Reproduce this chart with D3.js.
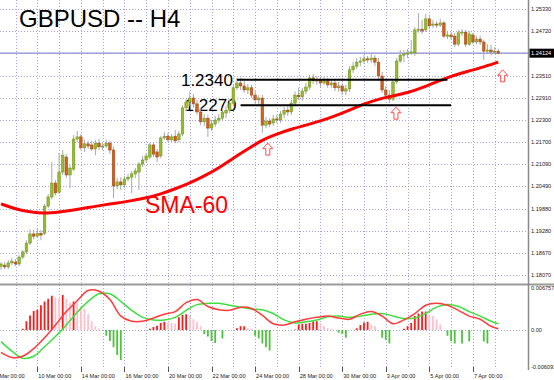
<!DOCTYPE html>
<html><head><meta charset="utf-8">
<script src="https://cdn.jsdelivr.net/npm/d3@7/dist/d3.min.js"></script>
<style>html,body{margin:0;padding:0;background:#fff;overflow:hidden}svg{display:block}</style>
</head><body><svg id="c" width="554" height="380"></svg>
<script>
// ---------- DATA ----------
const opens=[
1.1831,1.1834,1.1829,1.1840,1.1842,1.1837,1.1856,1.1870,1.1894,1.1919,
1.1913,1.1921,1.1921,1.1995,1.2020,1.2058,1.2033,1.2088,1.2129,1.2080,
1.2096,1.2178,1.2184,1.2154,1.2165,1.2162,1.2151,1.2167,1.2157,1.2159,
1.2167,1.2148,1.2050,1.2061,1.2053,1.2069,1.2074,1.2083,1.2088,1.2110,
1.2121,1.2129,1.2162,1.2143,1.2132,1.2181,1.2186,1.2176,1.2186,1.2176,
1.2192,1.2263,1.2279,1.2290,1.2274,1.2252,1.2225,1.2235,1.2208,1.2219,
1.2230,1.2235,1.2249,1.2257,1.2276,1.2318,1.2331,1.2323,1.2312,1.2318,
1.2298,1.2285,1.2290,1.2216,1.2227,1.2222,1.2233,1.2230,1.2246,1.2257,
1.2252,1.2276,1.2298,1.2293,1.2309,1.2320,1.2345,1.2337,1.2339,1.2331,
1.2337,1.2326,1.2331,1.2318,1.2323,1.2309,1.2315,1.2367,1.2377,1.2388,
1.2391,1.2397,1.2394,1.2399,1.2388,1.2350,1.2312,1.2298,1.2287,1.2334,
1.2391,1.2407,1.2410,1.2413,1.2413,1.2476,1.2478,1.2476,1.2506,1.2489,
1.2492,1.2489,1.2495,1.2459,1.2462,1.2459,1.2437,1.2468,1.2470,1.2437,
1.2462,1.2443,1.2451,1.2443,1.2418,1.2421,1.2416,1.2418];
const highs=[
1.1842,1.1842,1.1848,1.1853,1.1850,1.1861,1.1875,1.1902,1.1932,1.1930,
1.1935,1.1930,1.2001,1.2028,1.2115,1.2066,1.2140,1.2148,1.2137,1.2107,
1.2189,1.2200,1.2192,1.2176,1.2173,1.2173,1.2176,1.2178,1.2167,1.2176,
1.2173,1.2157,1.2072,1.2074,1.2077,1.2083,1.2091,1.2099,1.2115,1.2132,
1.2140,1.2167,1.2167,1.2151,1.2186,1.2197,1.2195,1.2192,1.2203,1.2200,
1.2271,1.2287,1.2307,1.2301,1.2285,1.2263,1.2246,1.2244,1.2230,1.2241,
1.2246,1.2263,1.2268,1.2285,1.2328,1.2345,1.2345,1.2337,1.2328,1.2326,
1.2309,1.2298,1.2298,1.2238,1.2235,1.2244,1.2244,1.2255,1.2265,1.2268,
1.2285,1.2307,1.2318,1.2318,1.2331,1.2353,1.2356,1.2350,1.2348,1.2348,
1.2345,1.2342,1.2339,1.2334,1.2331,1.2326,1.2377,1.2388,1.2399,1.2402,
1.2407,1.2405,1.2410,1.2407,1.2399,1.2361,1.2323,1.2312,1.2342,1.2399,
1.2421,1.2421,1.2424,1.2448,1.2484,1.2522,1.2503,1.2519,1.2517,1.2503,
1.2500,1.2506,1.2500,1.2473,1.2470,1.2468,1.2476,1.2478,1.2476,1.2473,
1.2468,1.2459,1.2459,1.2448,1.2437,1.2435,1.2429,1.2424];
const lows=[
1.1821,1.1823,1.1823,1.1834,1.1831,1.1831,1.1850,1.1864,1.1889,1.1905,
1.1908,1.1902,1.1916,1.1990,1.2014,1.2025,1.2028,1.2080,1.2072,1.2044,
1.2091,1.2170,1.2148,1.2143,1.2151,1.2145,1.2134,1.2148,1.2148,1.2154,
1.2137,1.2017,1.2042,1.2039,1.2044,1.2063,1.2031,1.2072,1.2039,1.2102,
1.2115,1.2123,1.2129,1.2115,1.2126,1.2176,1.2170,1.2170,1.2167,1.2170,
1.2186,1.2255,1.2268,1.2263,1.2244,1.2216,1.2214,1.2184,1.2200,1.2211,
1.2222,1.2227,1.2235,1.2249,1.2268,1.2312,1.2312,1.2304,1.2301,1.2290,
1.2274,1.2274,1.2195,1.2208,1.2211,1.2214,1.2222,1.2222,1.2235,1.2241,
1.2244,1.2271,1.2285,1.2282,1.2301,1.2312,1.2328,1.2326,1.2320,1.2326,
1.2318,1.2318,1.2309,1.2307,1.2298,1.2298,1.2307,1.2358,1.2369,1.2377,
1.2383,1.2386,1.2386,1.2377,1.2342,1.2304,1.2287,1.2276,1.2282,1.2328,
1.2386,1.2388,1.2399,1.2407,1.2405,1.2468,1.2465,1.2470,1.2478,1.2481,
1.2481,1.2484,1.2454,1.2451,1.2448,1.2429,1.2432,1.2459,1.2429,1.2432,
1.2437,1.2437,1.2435,1.2394,1.2410,1.2407,1.2410,1.2410];
const closes=[
1.1837,1.1829,1.1840,1.1845,1.1837,1.1856,1.1870,1.1894,1.1919,1.1913,
1.1921,1.1916,1.1995,1.2020,1.2058,1.2031,1.2088,1.2134,1.2080,1.2099,
1.2178,1.2184,1.2154,1.2165,1.2159,1.2151,1.2167,1.2157,1.2159,1.2167,
1.2148,1.2050,1.2061,1.2053,1.2069,1.2074,1.2083,1.2091,1.2110,1.2121,
1.2132,1.2162,1.2137,1.2129,1.2181,1.2186,1.2176,1.2184,1.2173,1.2192,
1.2263,1.2279,1.2290,1.2274,1.2252,1.2225,1.2235,1.2208,1.2219,1.2230,
1.2235,1.2252,1.2257,1.2276,1.2318,1.2331,1.2323,1.2312,1.2318,1.2298,
1.2285,1.2290,1.2216,1.2227,1.2219,1.2233,1.2230,1.2246,1.2257,1.2252,
1.2276,1.2298,1.2293,1.2309,1.2320,1.2345,1.2337,1.2339,1.2331,1.2337,
1.2326,1.2331,1.2318,1.2323,1.2309,1.2315,1.2367,1.2377,1.2388,1.2391,
1.2397,1.2394,1.2399,1.2388,1.2350,1.2312,1.2298,1.2287,1.2334,1.2391,
1.2407,1.2410,1.2413,1.2416,1.2476,1.2478,1.2473,1.2506,1.2487,1.2492,
1.2489,1.2495,1.2459,1.2462,1.2457,1.2437,1.2468,1.2470,1.2437,1.2465,
1.2443,1.2451,1.2443,1.2418,1.2421,1.2416,1.2418,1.2412];

// SMA-60 read at sample bars
const smaIdx=[0,4,8,12,16,20,24,28,32,36,40,44,48,52,56,60,64,68,72,76,80,84,88,92,96,100,104,108,112,116,120,124,128,132,137];
const smaVal=[1.2001,1.1987,1.1979,1.1975,1.1979,1.1984,1.1991,1.1998,1.2003,1.2010,1.2017,1.2028,1.2042,1.2058,1.2077,1.2099,1.2126,1.2151,1.2176,1.2192,1.2205,1.2216,1.2227,1.2241,1.2257,1.2274,1.2287,1.2296,1.2304,1.2318,1.2334,1.2350,1.2361,1.2372,1.2388];

// MACD panel
const macdIdx=[0,3,6,9,12,15,18,21,24,27,30,33,36,39,42,45,48,51,54,57,60,63,66,69,72,75,78,81,84,87,90,93,96,99,102,105,108,111,114,117,120,123,126,129,132,135,137];
const macdMain=[-0.0035,-0.0043,-0.0041,-0.0029,-0.0012,0.0008,0.0029,0.0046,0.0062,0.0061,0.0048,0.0022,0.0014,0.0014,0.0019,0.0025,0.0029,0.0043,0.0048,0.0037,0.0032,0.0031,0.0036,0.0034,0.0023,0.0010,0.0008,0.0013,0.0017,0.0020,0.0022,0.0019,0.0017,0.0025,0.0029,0.0022,0.0010,0.0016,0.0026,0.0039,0.0042,0.0039,0.0031,0.0022,0.0017,0.0006,0.0002];
const macdSignal=[-0.0018,-0.0033,-0.0044,-0.0041,-0.0026,-0.0010,0.0008,0.0028,0.0045,0.0057,0.0057,0.0045,0.0031,0.0020,0.0016,0.0016,0.0020,0.0031,0.0040,0.0042,0.0042,0.0039,0.0036,0.0033,0.0032,0.0026,0.0016,0.0011,0.0013,0.0016,0.0021,0.0022,0.0020,0.0022,0.0025,0.0026,0.0022,0.0018,0.0019,0.0026,0.0036,0.0040,0.0037,0.0029,0.0022,0.0014,0.0010];
const histogram=[
0,0,0,0,0,0,0.0002,0.0014,0.0023,0.0030,
0.0032,0.0039,0.0045,0.0049,0.0054,0.0051,0.0050,0.0055,0.0049,0.0043,
0.0045,0.0042,0.0037,0.0034,0.0025,0.0014,0.0006,0.0002,0,-0.0009,
-0.0017,-0.0027,-0.0039,-0.0047,0,0,0,0,0,0,
0,0.0002,0.0005,0.0007,0.0011,0.0013,0.0012,0.0011,0.0010,0.0020,
0.0024,0.0025,0.0022,0.0017,0.0013,0.0006,-0.0006,-0.0010,-0.0017,-0.0020,
0,-0.0013,0,0,0,0.0003,0.0006,0.0006,0.0003,0.0002,
-0.0009,-0.0013,-0.0021,-0.0027,-0.0032,0,0,0,0,0,
0,0.0001,0.0009,0.0010,0.0010,0.0011,0.0014,0.0014,0.0011,0.0006,
0.0003,0.0002,0,-0.0004,-0.0006,-0.0012,0,0,0.0003,0.0008,
0.0012,0.0013,0.0008,0.0006,0,-0.0012,-0.0015,-0.0021,0,0,
0,0.0002,0.0006,0.0011,0.0022,0.0026,0.0029,0.0029,0.0025,0.0022,
0.0017,0.0009,0,-0.0009,-0.0017,-0.0021,0,-0.0021,0,-0.0018,
0,0,0,-0.0018,-0.0021,0,0,0];

// axes / annotations
const priceTicks=[1.25330,1.24720,1.24120,1.23510,1.22910,1.22300,1.21700,1.21090,1.20490,1.19880,1.19280,1.18670,1.18070];
const priceTickLabels=["1.25330","1.24720","1.24120","1.23510","1.22910","1.22300","1.21700","1.21090","1.20490","1.19880","1.19280","1.18670","1.18070"];
const bidPrice=1.24124;
const macdTicks=[0.006757,0,-0.006093];
const macdTickLabels=["0.006757","0.00","-0.006093"];
const timeIdx=[-2,10,22,34,46,58,70,82,94,106,118,130];
const timeLabels=["8 Mar 00:00","10 Mar 00:00","14 Mar 00:00","16 Mar 00:00","20 Mar 00:00","22 Mar 00:00","24 Mar 00:00","28 Mar 00:00","30 Mar 00:00","3 Apr 00:00","5 Apr 00:00","7 Apr 00:00"];
const levels=[1.2340,1.2270];
const levelLabels=["1.2340","1.2270"];
const levelStart=[65,66];
const levelEnd=[123,124];
const arrowIdx=[73.5,108.8,138.2];
const arrowPrice=[1.2167,1.2265,1.2367];
const title="GBPUSD -- H4";
const smaLabel="SMA-60";

// ---------- DRAW ----------
const plotRight=528, sepY=284.5;
const font='"Liberation Sans", Arial, sans-serif';
const x=d3.scaleLinear().domain([0,137]).range([1,498.3]);
const y=d3.scaleLinear().domain([1.1807,1.2533]).range([275,9]);
const ym=d3.scaleLinear().domain([-0.006093,0.006757]).range([369,287]);
const svg=d3.select('#c');
const defs=svg.append('defs');
defs.append('clipPath').attr('id','cm').append('rect').attr('x',0).attr('y',0).attr('width',plotRight).attr('height',sepY-1);
defs.append('clipPath').attr('id','cd').append('rect').attr('x',0).attr('y',sepY+1).attr('width',plotRight).attr('height',369-sepY);

const gridColor='#a4a4e4';
// vertical grid
const vIdx=d3.range(4,138,6);
svg.append('g').selectAll('line').data(vIdx).join('line')
  .attr('x1',d=>Math.round(x(d))+0.5).attr('x2',d=>Math.round(x(d))+0.5)
  .attr('y1',0).attr('y2',369)
  .attr('stroke',gridColor).attr('stroke-width',1).attr('stroke-dasharray','1,2');
// horizontal grid
svg.append('g').selectAll('line').data(priceTicks).join('line')
  .attr('x1',0).attr('x2',plotRight)
  .attr('y1',d=>Math.round(y(d))+0.5).attr('y2',d=>Math.round(y(d))+0.5)
  .attr('stroke',gridColor).attr('stroke-width',1).attr('stroke-dasharray','1,2');
svg.append('line').attr('x1',0).attr('x2',plotRight)
  .attr('y1',Math.round(ym(0))+0.5).attr('y2',Math.round(ym(0))+0.5)
  .attr('stroke',gridColor).attr('stroke-dasharray','1,2');

// bid line
svg.append('line').attr('x1',0).attr('x2',plotRight)
  .attr('y1',y(bidPrice)).attr('y2',y(bidPrice))
  .attr('stroke','#8e8ed2').attr('stroke-width',1.3);

const main=svg.append('g').attr('clip-path','url(#cm)');
// level labels (under candles)
main.append('g').selectAll('text').data(levels).join('text')
  .attr('x',(d,i)=>x(levelStart[i])-4).attr('y',d=>y(d)+6)
  .attr('text-anchor','end').attr('font-family',font).attr('font-size',17)
  .attr('fill','#000').text((d,i)=>levelLabels[i]);

// candles
const idx=d3.range(opens.length);
main.append('g').selectAll('line').data(idx).join('line')
  .attr('x1',i=>x(i)).attr('x2',i=>x(i))
  .attr('y1',i=>y(highs[i])).attr('y2',i=>y(lows[i]))
  .attr('stroke','#a8a8a8').attr('stroke-width',1);
main.append('g').selectAll('rect').data(idx).join('rect')
  .attr('x',i=>x(i)-1.3).attr('width',2.6)
  .attr('y',i=>y(Math.max(opens[i],closes[i])))
  .attr('height',i=>Math.max(1,Math.abs(y(opens[i])-y(closes[i]))))
  .attr('fill',i=>closes[i]>=opens[i]?'#94bd2c':'#d2601c')
  .attr('stroke',i=>closes[i]>=opens[i]?'#6e8f1e':'#9a4414').attr('stroke-width',0.5);

// SMA
main.append('path').datum(smaIdx)
  .attr('d',d3.line().x(i=>x(i)).y((i,k)=>y(smaVal[k])).curve(d3.curveBasis))
  .attr('fill','none').attr('stroke','#ff0000').attr('stroke-width',3);

// level lines
main.append('g').selectAll('line').data(levels).join('line')
  .attr('x1',(d,i)=>x(levelStart[i])).attr('x2',(d,i)=>x(levelEnd[i]))
  .attr('y1',d=>y(d)).attr('y2',d=>y(d))
  .attr('stroke','#000').attr('stroke-width',2);

// arrows
main.append('g').selectAll('path').data(arrowIdx).join('path')
  .attr('d',(d,i)=>{const cx=x(d),t=y(arrowPrice[i]);
    return `M${cx},${t} L${cx+5},${t+5.5} L${cx+2},${t+5.5} L${cx+2},${t+12} L${cx-2},${t+12} L${cx-2},${t+5.5} L${cx-5},${t+5.5} Z`;})
  .attr('fill','#fff').attr('stroke','#ff4a4a').attr('stroke-width',1);

// SMA label + title
svg.append('text').attr('x',145).attr('y',213).attr('font-family',font).attr('font-size',23)
  .attr('fill','#ff0000').text(smaLabel);
svg.append('text').attr('x',19).attr('y',27).attr('font-family',font).attr('font-size',24)
  .attr('fill','#000').text(title);

// MACD panel
const mg=svg.append('g').attr('clip-path','url(#cd)');
mg.append('g').selectAll('line').data(idx.filter(i=>histogram[i]!==0)).join('line')
  .attr('x1',i=>x(i)).attr('x2',i=>x(i))
  .attr('y1',ym(0)).attr('y2',i=>ym(histogram[i]))
  .attr('stroke',i=>{const v=histogram[i],p=i>0?histogram[i-1]:0;
     if(v<0) return '#4cc43c'; return v>=p?'#ff1a1a':'#ffc0cb';})
  .attr('stroke-width',1.8);
mg.append('path').datum(macdIdx)
  .attr('d',d3.line().x(i=>x(i)).y((i,k)=>ym(macdSignal[k])).curve(d3.curveCatmullRom))
  .attr('fill','none').attr('stroke','#3ee03e').attr('stroke-width',1.5);
mg.append('path').datum(macdIdx)
  .attr('d',d3.line().x(i=>x(i)).y((i,k)=>ym(macdMain[k])).curve(d3.curveCatmullRom))
  .attr('fill','none').attr('stroke','#ff3a3a').attr('stroke-width',1.5);

// separator and right axis
svg.append('line').attr('x1',0).attr('x2',554).attr('y1',sepY).attr('y2',sepY)
  .attr('stroke','#9a9a9a').attr('stroke-width',2);
svg.append('line').attr('x1',plotRight+0.5).attr('x2',plotRight+0.5).attr('y1',0).attr('y2',370)
  .attr('stroke','#8a8a8a').attr('stroke-width',1.5);

// price labels
svg.append('g').selectAll('text').data(priceTicks).join('text')
  .attr('x',531).attr('y',d=>y(d)).attr('dy','0.35em')
  .attr('font-family',font).attr('font-size',5.6).attr('fill','#222')
  .text((d,i)=>priceTickLabels[i]);
// bid box
svg.append('rect').attr('x',529.5).attr('y',y(bidPrice)-4.5).attr('width',24.5).attr('height',9).attr('fill','#000');
svg.append('text').attr('x',531).attr('y',y(bidPrice)).attr('dy','0.35em')
  .attr('font-family',font).attr('font-size',5.6).attr('fill','#fff').text(bidPrice.toFixed(5));
// macd labels
svg.append('g').selectAll('text').data(macdTicks).join('text')
  .attr('x',531).attr('y',(d,i)=>i===0?ym(d)+1.5:(i===2?ym(d)-2:ym(d))).attr('dy','0.35em')
  .attr('font-family',font).attr('font-size',5.6).attr('fill','#222')
  .text((d,i)=>macdTickLabels[i]);

// time axis
svg.append('g').selectAll('line').data(timeIdx).join('line')
  .attr('x1',d=>Math.round(x(d))+0.5).attr('x2',d=>Math.round(x(d))+0.5)
  .attr('y1',367).attr('y2',372).attr('stroke','#555').attr('stroke-width',1);
svg.append('g').selectAll('text').data(timeIdx).join('text')
  .attr('x',d=>x(d)+1).attr('y',378)
  .attr('font-family',font).attr('font-size',5.6).attr('fill','#222')
  .text((d,i)=>timeLabels[i]);
</script></body></html>
